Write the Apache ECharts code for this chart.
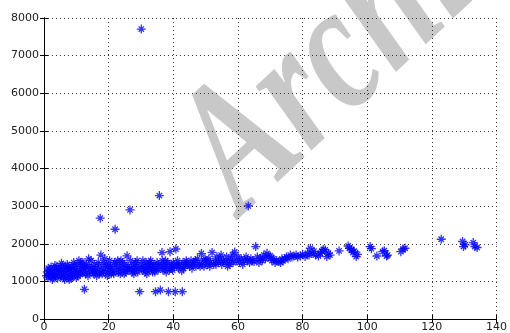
<!DOCTYPE html>
<html>
<head>
<meta charset="utf-8">
<script src="https://cdn.jsdelivr.net/npm/echarts@6/dist/echarts.min.js"></script>
<style>
    body { margin: 0; background: #fff; }
    #plot { width: 510px; height: 333px; }
</style>
</head>
<body>
<div id="plot"></div>
<script>
// x ticks and y ticks of the axes
let xTicks = [0, 20, 40, 60, 80, 100, 120, 140];
let yTicks = [0, 1000, 2000, 3000, 4000, 5000, 6000, 7000, 8000];

// main band of points [x, y]
let bandPoints = [
    [0.8,1150],[1,1250],[1.2,1100],[1.3,1350],[1.5,1200],[1.8,1300],[2,1150],[2.2,1380],[2.5,1250],[2.6,1050],
    [2.8,1100],[3,1200],[3.2,1320],[3.4,1420],[3.5,1150],[3.8,1250],[4,1400],[4.2,1080],[4.4,1180],[4.5,1300],
    [4.8,1200],[5,1350],[5.2,1150],[5.4,1480],[5.5,1250],[5.8,1420],[6,1100],[6.2,1300],[6.4,1050],[6.5,1200],
    [6.8,1350],[7,1150],[7.2,1450],[7.4,1380],[7.5,1250],[7.8,1050],[8,1320],[8.2,1200],[8.4,1080],[8.5,1400],
    [8.8,1150],[9,1280],[9.2,1500],[9.4,1400],[9.5,1200],[9.8,1350],[10,1100],[10.2,1450],[10.4,1150],[10.5,1250],
    [10.8,1550],[11,1300],[11.2,1180],[11.4,1500],[11.5,1400],[11.8,1250],[12,1500],[12.3,1350],[12.6,1400],[12.8,1200],
    [13,1450],[13.3,1300],[13.6,1150],[13.8,1600],[14,1400],[14.3,1250],[14.6,1550],[14.8,1350],[15,1300],[15.3,1200],
    [15.6,1450],[15.8,1250],[16,1350],[16.3,1150],[16.6,1250],[16.8,1500],[17,1400],[17.2,1200],[17.6,1700],[17.8,1300],
    [18,1200],[18.3,1500],[18.6,1350],[18.8,1600],[19,1250],[19.3,1450],[19.6,1150],[19.8,1400],[20,1300],[20.3,1550],
    [20.6,1400],[20.8,1200],[21,1250],[21.3,1350],[21.6,1200],[21.8,1500],[22.2,1450],[22.5,1300],[22.8,1550],[23,1250],
    [23.3,1400],[23.6,1200],[23.8,1550],[24,1350],[24.3,1500],[24.6,1300],[24.8,1200],[25,1450],[25.3,1250],[25.7,1680],
    [25.8,1350],[26,1400],[26.3,1300],[26.8,1550],[27,1350],[27.3,1250],[27.6,1450],[27.8,1200],[28,1300],[28.3,1500],
    [28.6,1400],[28.8,1550],[29,1250],[29.3,1350],[30,1450],[30.3,1300],[30.6,1550],[30.8,1350],[31,1400],[31.3,1250],
    [31.6,1500],[31.8,1200],[32,1350],[32.3,1450],[32.6,1300],[32.8,1500],[33,1550],[33.3,1400],[33.6,1250],[33.8,1350],
    [34,1450],[34.3,1250],[34.8,1350],[35,1500],[35.3,1300],[35.6,1450],[36.2,1400],[36.5,1765],[36.6,1550],[36.8,1300],
    [37,1450],[37.3,1350],[37.6,1550],[37.8,1250],[38,1400],[38.3,1500],[38.8,1300],[39,1790],[39.3,1450],[39.6,1350],
    [39.8,1300],[40,1500],[40.3,1400],[40.8,1860],[41,1450],[41.3,1550],[41.6,1350],[41.8,1400],[42,1450],[42.6,1280],
    [43,1500],[43.2,1350],[43.5,1400],[44,1550],[44.2,1500],[44.5,1450],[45,1400],[45.5,1550],[45.8,1350],[46,1450],
    [46.5,1500],[46.8,1550],[47,1400],[47.5,1600],[48,1450],[48.3,1400],[48.7,1740],[49,1500],[49.5,1400],[49.8,1600],
    [50,1550],[50.5,1450],[51,1600],[51.3,1400],[51.5,1500],[52,1770],[52.5,1450],[53,1550],[53.2,1450],[53.5,1650],
    [54,1500],[54.5,1600],[54.8,1700],[55,1450],[55.5,1550],[56,1500],[56.5,1650],[56.8,1400],[57,1550],[57.5,1450],
    [58,1600],[58.3,1700],[58.5,1500],[59,1780],[59.5,1550],[60,1650],[60.5,1500],[61,1600],[61.5,1450],[62,1550],
    [62.5,1650],[63,1570],[63.6,1500],[64,1600],[64.5,1550],[65,1525],[65.5,1925],[66,1650],[66.5,1500],[67,1615],
    [67.5,1550],[68,1700],[68.5,1600],[69,1745],[69.5,1650],[70,1675],[70.5,1550],[71,1600],[71.5,1500],[72,1550],
    [72.7,1525],[73.2,1500],[73.6,1600],[74,1550],[74.5,1600],[75,1650],[75.5,1600],[76.2,1700],[76.7,1650],[77.3,1675],
    [78,1700],[78.5,1650],[79.3,1675],[80,1720],[80.8,1660],[81.5,1750],[82,1700],[82.4,1880],[82.9,1745],[83.5,1800],
    [84,1700],[84.9,1675],[85.5,1750],[86,1800],[86.4,1850],[87,1835],[87.5,1660],[88,1750],[88.5,1700],[91.3,1810],
    [94.1,1940],[94.5,1880],[95.1,1850],[95.6,1765],[96,1800],[96.6,1660],[97,1720],[100.9,1925],[101.3,1870],[103,1675],
    [104.8,1790],[105.3,1815],[106,1675],[106.3,1700],[110.4,1790],[111.1,1860],[111.7,1880],[122.9,2120],[129.5,2060],[129.8,1925],
    [130.3,1970],[132.8,2030],[133.3,1925],[134,1900]
];

// points far above the band
let highOutliers = [[17.4,2680],[22,2385],[26.6,2900],[30.1,7705],[35.7,3280],[63.2,3005]];

// points below the band
let lowOutliers = [[12.5,790],[29.6,726],[34.5,726],[36,770],[38.5,726],[40.6,726],[42.8,726]];

let allPoints = bandPoints.concat(highOutliers, lowOutliers);

// matlab style '*' marker: plus with a cross
let starPath = 'path://M0,5L10,5M5,0L5,10M2,2L8,8M8,2L2,8';

let labelFont = { fontFamily: 'DejaVu Sans', fontSize: 11, color: '#222' };

let myChart = echarts.init(document.getElementById('plot'), null, { renderer: 'canvas' });

let option = {
    backgroundColor: '#fff',
    animation: false,
    grid: { left: 44, right: 8, top: 18, bottom: 14, containLabel: false },
    graphic: [
        {
            type: 'text',
            z: -10,
            silent: true,
            x: 146,
            y: 113,
            scaleX: 0.75,
            rotation: 43 * Math.PI / 180,
            style: {
                text: 'Archive',
                font: 'italic bold 185px "Liberation Serif"',
                fill: '#c8c8c8'
            }
        }
    ],
    xAxis: [
        {
            type: 'value',
            min: 0, max: 140, interval: 20,
            axisLine: { lineStyle: { color: '#000', width: 1 } },
            axisTick: { inside: true, length: 4, lineStyle: { color: '#000' } },
            axisLabel: Object.assign({ margin: 3 }, labelFont),
            splitLine: { show: true, lineStyle: { color: '#333', type: [1, 3], width: 1 } }
        },
        {
            type: 'value', position: 'top',
            min: 0, max: 140, interval: 20,
            axisLine: { show: true, lineStyle: { color: '#000', width: 1 } },
            axisTick: { inside: true, length: 4, lineStyle: { color: '#000' } },
            axisLabel: { show: false },
            splitLine: { show: false }
        }
    ],
    yAxis: [
        {
            type: 'value',
            min: 0, max: 8000, interval: 1000,
            axisLine: { show: true, lineStyle: { color: '#000', width: 1 } },
            axisTick: { show: true, inside: true, length: 4, lineStyle: { color: '#000' } },
            axisLabel: Object.assign({ margin: 5, formatter: function (v) { return String(v); } }, labelFont),
            splitLine: { show: true, lineStyle: { color: '#333', type: [1, 3], width: 1 } }
        },
        {
            type: 'value', position: 'right',
            min: 0, max: 8000, interval: 1000,
            axisLine: { show: true, lineStyle: { color: '#000', width: 1 } },
            axisTick: { show: true, inside: true, length: 4, lineStyle: { color: '#000' } },
            axisLabel: { show: false },
            splitLine: { show: false }
        }
    ],
    series: [
        {
            type: 'scatter',
            data: allPoints,
            symbol: starPath,
            symbolSize: 9,
            itemStyle: { color: 'rgba(0,0,0,0)', borderColor: '#0000ff', borderWidth: 1.3 }
        }
    ]
};

myChart.setOption(option);
</script>
</body>
</html>
